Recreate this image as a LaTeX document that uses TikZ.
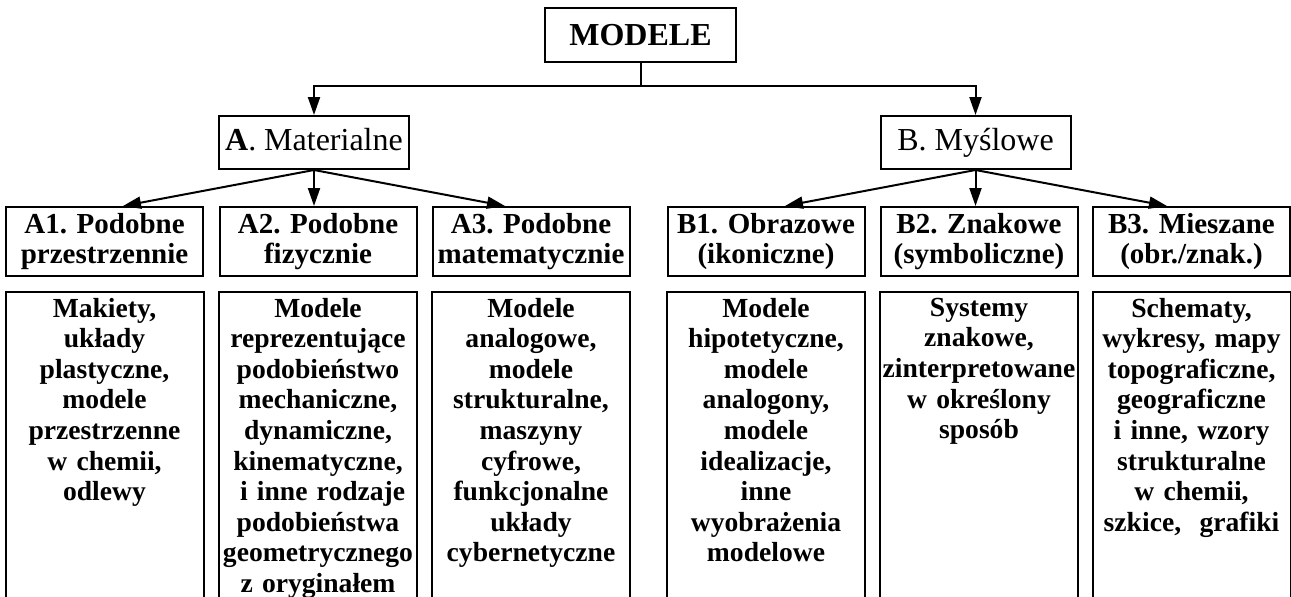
\documentclass[tikz,border=0pt]{standalone}
\usepackage{fontspec}
\setmainfont{Liberation Serif}
\usetikzlibrary{arrows.meta}
\frenchspacing
\tikzset{
  glowny/.style={draw,line width=1pt,inner sep=0pt,minimum width=95.5pt,minimum height=27pt,
    font=\bfseries\fontsize{16pt}{18pt}\selectfont},
  grupa/.style={draw,line width=1pt,inner sep=0pt,minimum width=95pt,minimum height=26.5pt,
    text height=11pt,text depth=3.5pt,font=\fontsize{16pt}{18pt}\selectfont},
  kat/.style={draw,line width=1pt,inner xsep=0.5pt,inner ysep=0pt,text width=97.5pt,align=center,
    minimum height=34.5pt,font=\bfseries\fontsize{14.5pt}{15.3pt}\selectfont},
  opis/.style={draw,line width=1pt,anchor=north,inner xsep=0.5pt,inner ysep=3pt,text width=98pt,
    align=center,text depth=160pt,font=\bfseries\fontsize{13.8pt}{15.3pt}\selectfont},
  strz/.style={line width=1pt,-{Triangle[length=9pt,width=6pt]}}
}
\begin{document}
\begin{tikzpicture}[x=0.5pt,y=-0.5pt]%1 jednostka = 1 piksel
\clip (0,0) rectangle (1291,596);
% poziom 1 i 2
\node[glowny] (modele) at (640.5,35) {MODELE};
\node[grupa] (mat) at (314,142.5) {\textbf{A}. Materialne};
\node[grupa] (mys) at (975.5,142.5) {B. Myślowe};
% kategorie
\node[kat] (a1) at (104.5,241.5) {A1. Podobne\\przestrzennie};
\node[kat] (a2) at (318,241.5) {A2. Podobne\\fizycznie};
\node[kat] (a3) at (531,241.5) {A3. Podobne\\matematycznie};
\node[kat] (b1) at (766,241.5) {B1. Obrazowe\\(ikoniczne)};
\node[kat] (b2) at (979,241.5) {B2. Znakowe\\(symboliczne)};
\node[kat] (b3) at (1191.5,241.5) {B3. Mieszane\\(obr./znak.)};
% opisy
\node[opis] (a1o) at (104.5,291) {Makiety,\\układy\\plastyczne,\\modele\\przestrzenne\\w chemii,\\odlewy};
\node[opis] (a2o) at (318,291) {Modele\\reprezentujące\\podobieństwo\\mechaniczne,\\dynamiczne,\\kinematyczne,\\\ i inne rodzaje\\podobieństwa\\geometrycznego\\z oryginałem};
\node[opis] (a3o) at (531,291) {Modele\\analogowe,\\modele\\strukturalne,\\maszyny\\cyfrowe,\\funkcjonalne\\układy\\cybernetyczne};
\node[opis] (b1o) at (766,291) {Modele\\hipotetyczne,\\modele\\analogony,\\modele\\idealizacje,\\inne\\wyobrażenia\\modelowe};
\node[opis] (b2o) at (979,291) {Systemy\\znakowe,\\zinterpretowane\\w określony\\sposób};
\node[opis] (b3o) at (1191.5,291) {Schematy,\\wykresy, mapy\\topograficzne,\\geograficzne\\i inne, wzory\\strukturalne\\w chemii,\\szkice,\ \ grafiki};
% strzalki
\draw[strz] (modele.south) -- ++(0,23) -| (mat.north);
\draw[strz] (modele.south) -- ++(0,23) -| (mys.north);
\draw[strz] (mat.south) -- ([xshift=9.25pt]a1.north);
\draw[strz] (mat.south) -- (mat.south |- a2.north);
\draw[strz] (mat.south) -- ([xshift=-13pt]a3.north);
\draw[strz] (mys.south) -- ([xshift=9.5pt]b1.north);
\draw[strz] (mys.south) -- (mys.south |- b2.north);
\draw[strz] (mys.south) -- ([xshift=-12.25pt]b3.north);
\end{tikzpicture}
\end{document}
